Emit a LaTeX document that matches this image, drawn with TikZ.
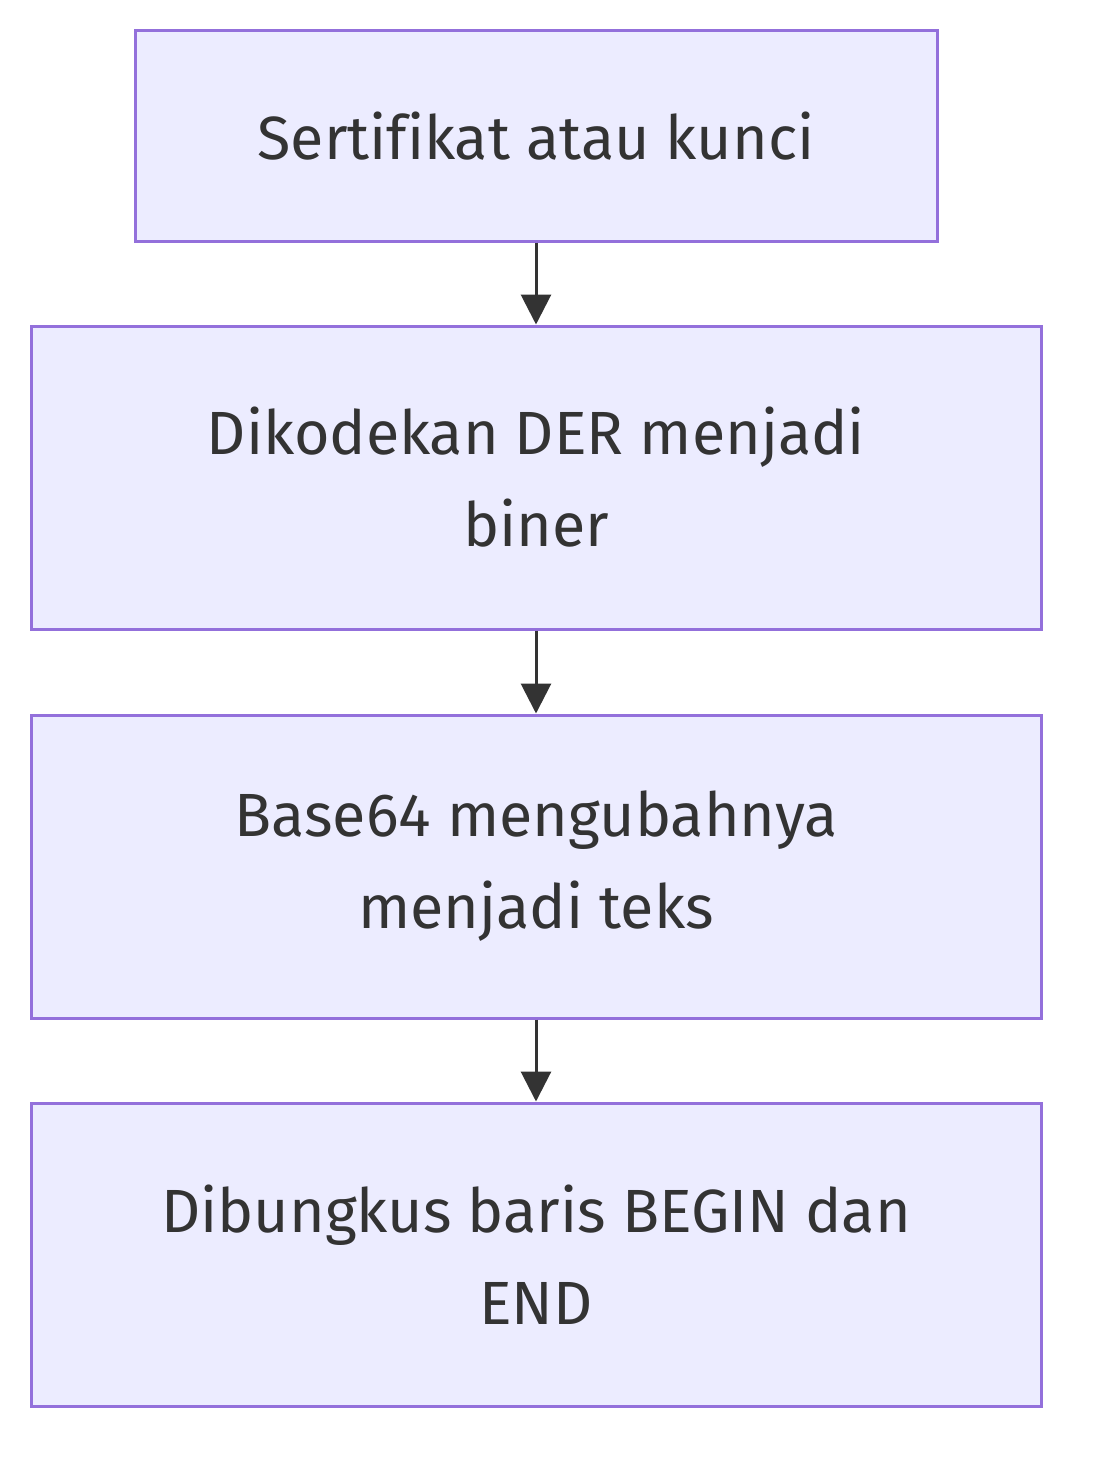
\documentclass[tikz,border=0pt]{standalone}
\usepackage{fontspec}
\setmainfont[Ligatures=NoCommon]{Fira Sans}
\usetikzlibrary{arrows.meta}
\definecolor{boxfill}{HTML}{ECECFF}
\definecolor{boxline}{HTML}{9370DB}
\definecolor{ink}{HTML}{333333}
\begin{document}
\begin{tikzpicture}[x=1pt,y=-1pt,
  box/.style={draw=boxline,fill=boxfill,line width=3pt,minimum height=#1,align=center,
    text=ink,font=\fontsize{61}{92}\selectfont,inner sep=0pt},
  arr/.style={draw=ink,line width=3pt,-{Triangle[length=30pt,width=30pt]}}]
\useasboundingbox (0,0) rectangle (1104,1480);
\node[box=210pt,minimum width=802pt] (a) at (536,136) {Sertifikat atau kunci};
\node[box=303pt,minimum width=1010pt] (b) at (536,477.5) {Dikodekan DER menjadi\\biner};
\node[box=303pt,minimum width=1010pt] (c) at (536,866.5) {Base64 mengubahnya\\menjadi teks};
\node[box=303pt,minimum width=1010pt] (d) at (536,1254.5) {Dibungkus baris BEGIN dan\\END};
\draw[arr] (a) -- (b);
\draw[arr] (b) -- (c);
\draw[arr] (c) -- (d);
\end{tikzpicture}
\end{document}
